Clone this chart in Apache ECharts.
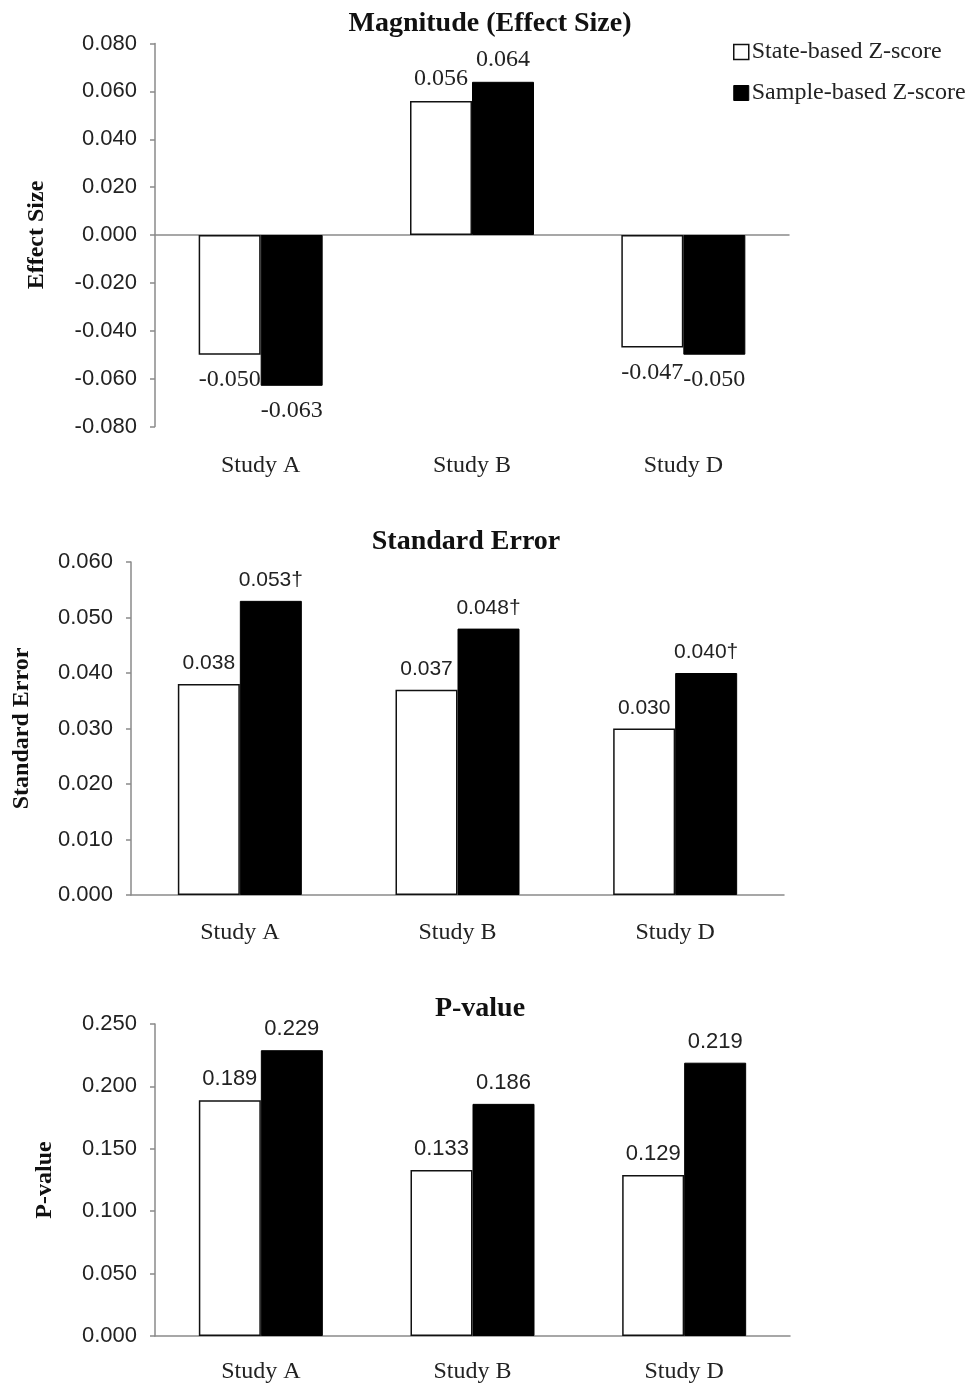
<!DOCTYPE html>
<html>
<head>
<meta charset="utf-8">
<script src="https://cdn.jsdelivr.net/npm/echarts@6/dist/echarts.min.js"></script>
<style>
html,body{margin:0;padding:0;background:#fff;}
#chart{width:978px;height:1386px;}
</style>
</head>
<body>
<div id="chart"></div>
<script>
// ---- data ----
const categories = ['Study A', 'Study B', 'Study D'];
const seriesNames = ['State-based Z-score', 'Sample-based Z-score'];
const effectState = [-0.050, 0.056, -0.047];
const effectSample = [-0.063, 0.064, -0.050];
const seState = [0.038, 0.037, 0.030];
const seSample = [0.053, 0.048, 0.040];
const pState = [0.189, 0.133, 0.129];
const pSample = [0.229, 0.186, 0.219];
const chartTitles = ['Magnitude (Effect Size)', 'Standard Error', 'P-value'];
const axisNames = ['Effect Size', 'Standard Error', 'P-value'];
const sampleMark = '\u2020';

// ---- styles ----
const SERIF = '"Liberation Serif", "Times New Roman", serif';
const SANS = '"Liberation Sans", Arial, sans-serif';
const AXIS_GRAY = '#8a8a8a';
const TEXT = '#222';

const grids = [
  {left: 155, top: 43.5, width: 634, height: 383},
  {left: 131, top: 562, width: 653, height: 333},
  {left: 155, top: 1024, width: 635, height: 312}
];
const yRanges = [
  {min: -0.08, max: 0.08, interval: 0.02},
  {min: 0, max: 0.06, interval: 0.01},
  {min: 0, max: 0.25, interval: 0.05}
];
const nameGaps = [106, 97, 98];
const catMargins = [27, 26, 24];
const labelFonts = [
  {fontFamily: SERIF, fontSize: 24},
  {fontFamily: SANS, fontSize: 21},
  {fontFamily: SANS, fontSize: 22}
];
const titlePos = [
  {x: 490, y: 10},
  {x: 466, y: 528},
  {x: 480, y: 995}
];

const xAxes = [];
const yAxes = [];
const series = [];
const titles = [];

const dataSets = [
  [effectState, effectSample],
  [seState, seSample],
  [pState, pSample]
];

grids.forEach((g, i) => {
  titles.push({
    text: chartTitles[i],
    left: titlePos[i].x,
    top: titlePos[i].y,
    textAlign: 'center',
    padding: 0,
    textStyle: {fontFamily: SERIF, fontWeight: 'bold', fontSize: 28, color: '#111'}
  });
  // axis line at zero (no labels)
  xAxes.push({
    type: 'category', gridIndex: i, data: categories, position: 'bottom',
    axisLine: {show: true, onZero: true, lineStyle: {color: AXIS_GRAY, width: 1.5}},
    axisTick: {show: false}, axisLabel: {show: false}
  });
  // label axis at bottom of plot
  xAxes.push({
    type: 'category', gridIndex: i, data: categories, position: 'bottom',
    axisLine: {show: false, onZero: false}, axisTick: {show: false},
    axisLabel: {show: true, margin: catMargins[i], fontFamily: SERIF, fontSize: 24, color: TEXT}
  });
  yAxes.push({
    type: 'value', gridIndex: i,
    min: yRanges[i].min, max: yRanges[i].max, interval: yRanges[i].interval,
    name: axisNames[i], nameLocation: 'middle', nameRotate: 90, nameGap: nameGaps[i],
    nameTextStyle: {fontFamily: SERIF, fontWeight: 'bold', fontSize: 24, color: '#111'},
    axisLine: {show: true, onZero: false, lineStyle: {color: AXIS_GRAY, width: 1.5}},
    axisTick: {show: true, length: 5, lineStyle: {color: AXIS_GRAY, width: 1.5}},
    splitLine: {show: false},
    axisLabel: {margin: 18, fontFamily: SANS, fontSize: 22, color: TEXT,
      formatter: v => v.toFixed(3)}
  });
  const [stateVals, sampleVals] = dataSets[i];
  [stateVals, sampleVals].forEach((vals, k) => {
    series.push({
      name: seriesNames[k],
      type: 'bar',
      xAxisIndex: i * 2,
      yAxisIndex: i,
      barWidth: 62,
      barGap: '0%',
      itemStyle: k === 0
        ? {color: '#ffffff', borderColor: '#111', borderWidth: 1.5}
        : {color: '#000000', borderColor: '#000', borderWidth: 1},
      label: {
        show: true,
        distance: 10,
        color: TEXT,
        fontFamily: labelFonts[i].fontFamily,
        fontSize: labelFonts[i].fontSize,
        formatter: p => p.value.toFixed(3) + (i === 1 && k === 1 ? sampleMark : '')
      },
      data: vals.map(v => ({value: v, label: v < 0 ? {position: 'bottom', distance: 13} : {position: 'top'}})),
      animation: false
    });
  });
});

const chart = echarts.init(document.getElementById('chart'), null, {renderer: 'canvas'});
chart.setOption({
  backgroundColor: '#ffffff',
  animation: false,
  title: titles,
  legend: {
    data: [
      {name: seriesNames[0], itemStyle: {color: '#fff', borderColor: '#111', borderWidth: 1.5}},
      {name: seriesNames[1], itemStyle: {color: '#000', borderColor: '#000', borderWidth: 1}}
    ],
    orient: 'vertical',
    left: 733, top: 40,
    padding: 0,
    itemWidth: 15, itemHeight: 15, itemGap: 17,
    icon: 'rect',
    textStyle: {fontFamily: SERIF, fontSize: 24, lineHeight: 24, color: TEXT, padding: [0, 0, 0, -2]}
  },
  grid: grids,
  xAxis: xAxes,
  yAxis: yAxes,
  series: series
});
</script>
</body>
</html>
